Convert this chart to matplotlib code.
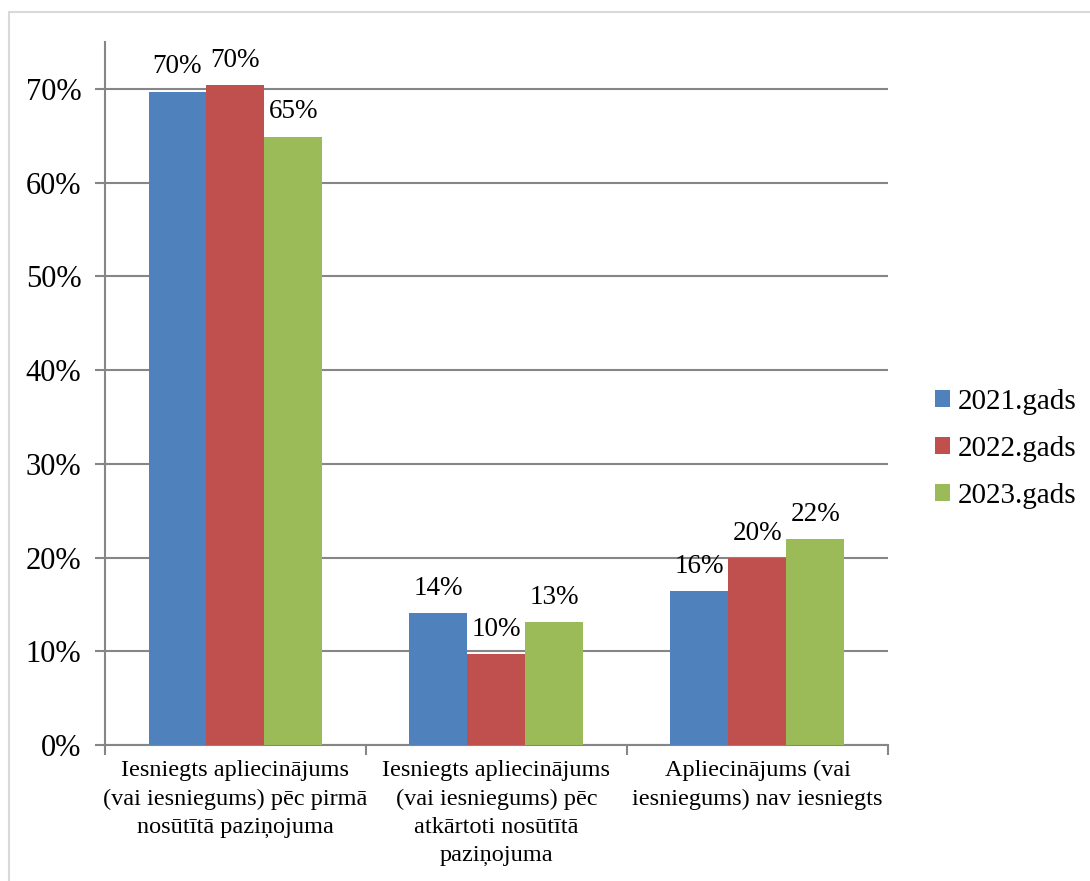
import matplotlib.pyplot as plt
import matplotlib.patches as mpatches
import numpy as np

plt.rcParams['font.family'] = ['Liberation Serif', 'DejaVu Serif']

categories = [
    'Iesniegts apliecinājums\n(vai iesniegums) pēc pirmā\nnosūtītā paziņojuma',
    'Iesniegts apliecinājums\n(vai iesniegums) pēc\natkārtoti nosūtītā\npaziņojuma',
    'Apliecinājums (vai\niesniegums) nav iesniegts',
]
series_names = ['2021.gads', '2022.gads', '2023.gads']
values_2021 = [0.697, 0.1406, 0.164]
values_2022 = [0.704, 0.097, 0.199]
values_2023 = [0.649, 0.131, 0.2195]
colors = ['#4F81BD', '#C0504D', '#9BBB59']
y_ticks = [0.0, 0.1, 0.2, 0.3, 0.4, 0.5, 0.6, 0.7]

fig = plt.figure(figsize=(10.9, 8.81), dpi=100)
ax = fig.add_axes([105 / 1090, 1 - 745 / 881, (888 - 105) / 1090, (745 - 42) / 881])

x = np.arange(len(categories))
w = 1 / 4.5
grid_col = '#868686'

for i, (name, vals) in enumerate(zip(series_names, [values_2021, values_2022, values_2023])):
    bars = ax.bar(x + (i - 1) * w, vals, w, color=colors[i], label=name, zorder=3)
    ax.bar_label(bars, labels=[f'{round(v * 100)}%' for v in vals], padding=9, fontsize=19.5)

ax.set_xlim(-0.5, 2.5)
ax.set_ylim(0, 0.75)
ax.set_yticks(y_ticks)
ax.set_yticklabels([f'{int(round(t * 100))}%' for t in y_ticks], fontsize=22)
ax.yaxis.grid(True, color=grid_col, lw=1.5, zorder=0)
ax.tick_params(axis='y', length=7, width=1.5, color=grid_col, pad=10)

ax.set_xticks([-0.5, 0.5, 1.5, 2.5])
ax.set_xticklabels([])
ax.tick_params(axis='x', length=7, width=1.5, color=grid_col)
ax.set_xticks(x, minor=True)
ax.set_xticklabels(categories, minor=True, fontsize=17.5, linespacing=1.44)
ax.tick_params(axis='x', which='minor', length=0, pad=11)

for side in ['top', 'right']:
    ax.spines[side].set_visible(False)
for side in ['left', 'bottom']:
    ax.spines[side].set_color(grid_col)
    ax.spines[side].set_linewidth(1.5)

fig.legend(loc='center left', bbox_to_anchor=(935 / 1090, 1 - 449 / 881), frameon=False,
           fontsize=21, handlelength=0.52, handleheight=0.52, handletextpad=0.25,
           labelspacing=0.72, borderpad=0, borderaxespad=0)

fig.patches.append(mpatches.Rectangle((8.5 / 1090, -0.1), 1.2, (881 - 11.5) / 881 + 0.1,
                                      transform=fig.transFigure, fill=False,
                                      ec='#d9d9d9', lw=1.5))

fig.savefig('out.png', dpi=100)
